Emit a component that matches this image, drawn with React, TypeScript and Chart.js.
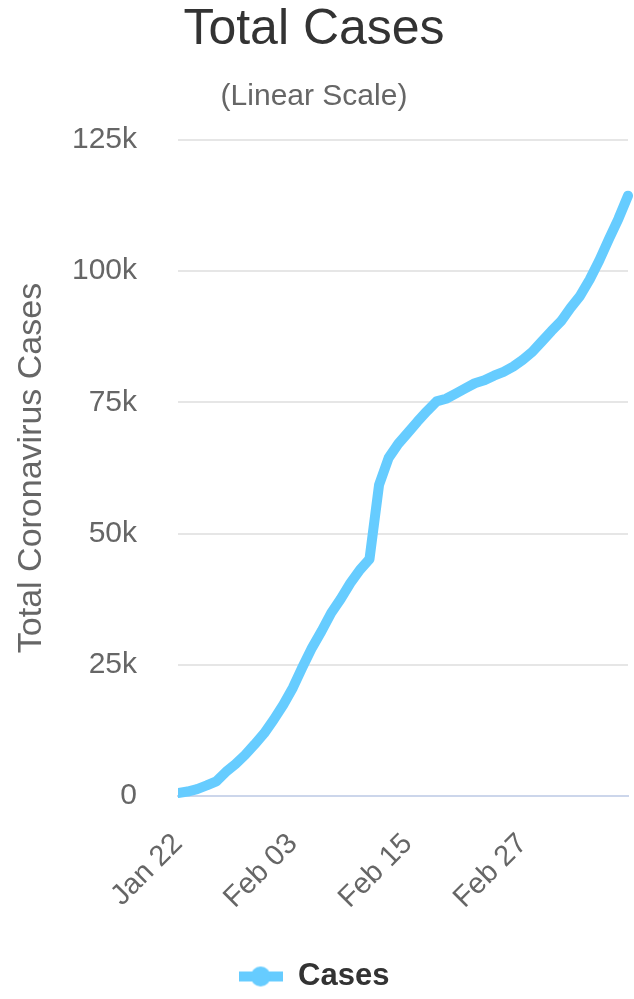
import React, { useEffect, useRef } from 'react';
import { Chart, registerables } from 'chart.js';

Chart.register(...registerables);

// Daily cumulative totals, Jan 22 – Mar 09
const dates = [
  'Jan 22', 'Jan 23', 'Jan 24', 'Jan 25', 'Jan 26', 'Jan 27', 'Jan 28', 'Jan 29', 'Jan 30', 'Jan 31',
  'Feb 01', 'Feb 02', 'Feb 03', 'Feb 04', 'Feb 05', 'Feb 06', 'Feb 07', 'Feb 08', 'Feb 09', 'Feb 10',
  'Feb 11', 'Feb 12', 'Feb 13', 'Feb 14', 'Feb 15', 'Feb 16', 'Feb 17', 'Feb 18', 'Feb 19', 'Feb 20',
  'Feb 21', 'Feb 22', 'Feb 23', 'Feb 24', 'Feb 25', 'Feb 26', 'Feb 27', 'Feb 28', 'Feb 29',
  'Mar 01', 'Mar 02', 'Mar 03', 'Mar 04', 'Mar 05', 'Mar 06', 'Mar 07', 'Mar 08', 'Mar 09',
];

const totalCases = [
  580, 845, 1317, 2015, 2800, 4581, 6058, 7813, 9823, 11950,
  14553, 17391, 20630, 24545, 28266, 31439, 34876, 37552, 40553, 43099,
  45134, 59287, 64438, 67100, 69197, 71329, 73332, 75184, 75700, 76677,
  77673, 78651, 79205, 80087, 80828, 81820, 83112, 84615, 86604,
  88585, 90443, 93016, 95314, 98425, 102050, 106099, 109991, 114381,
];

const yTickValues = [0, 25000, 50000, 75000, 100000, 125000];
const xLabelEvery = 12;

const FONT = "'Liberation Sans', Arial, Helvetica, sans-serif";
const LINE_COLOR = '#66CCFF';

function makeLegendSymbol(): HTMLCanvasElement {
  const c = document.createElement('canvas');
  c.width = 44;
  c.height = 22;
  const g = c.getContext('2d')!;
  g.fillStyle = LINE_COLOR;
  g.fillRect(0, 6, 44, 10);
  g.beginPath();
  g.arc(22, 11, 10, 0, Math.PI * 2);
  g.fill();
  return c;
}

export default function App() {
  const canvasRef = useRef<HTMLCanvasElement | null>(null);

  useEffect(() => {
    if (!canvasRef.current) return;
    const chart = new Chart(canvasRef.current, {
      type: 'line',
      data: {
        labels: dates,
        datasets: [
          {
            label: 'Cases',
            data: totalCases,
            borderColor: LINE_COLOR,
            backgroundColor: LINE_COLOR,
            borderWidth: 10,
            borderCapStyle: 'round',
            borderJoinStyle: 'round',
            pointRadius: 0,
            tension: 0,
            fill: false,
            clip: { left: 0, top: 10, right: 10, bottom: 10 },
          },
        ],
      },
      options: {
        animation: false,
        responsive: true,
        maintainAspectRatio: false,
        layout: { padding: { top: 0, left: 0, right: 6, bottom: -3 } },
        plugins: {
          title: {
            display: true,
            text: 'Total Cases',
            color: '#333333',
            font: { family: FONT, size: 50, weight: 'normal', lineHeight: 1.1 },
            padding: { top: 3, bottom: 9 },
          },
          subtitle: {
            display: true,
            text: '(Linear Scale)',
            color: '#666666',
            font: { family: FONT, size: 30, weight: 'normal', lineHeight: 1.2 },
            padding: { top: 12, bottom: 25 },
          },
          legend: {
            display: true,
            position: 'bottom',
            labels: {
              usePointStyle: true,
              pointStyle: makeLegendSymbol(),
              pointStyleWidth: 44,
              color: '#333333',
              font: { family: FONT, size: 31, weight: 'bold' },
              padding: 10,
            },
          },
          tooltip: { enabled: false },
        },
        scales: {
          x: {
            type: 'category',
            grid: { display: false },
            border: { display: true, color: '#ccd6eb', width: 2 },
            ticks: {
              autoSkip: false,
              minRotation: 45,
              maxRotation: 45,
              padding: 23,
              color: '#666666',
              font: { family: FONT, size: 29 },
              callback: (_v: any, i: number) => (i % xLabelEvery === 0 ? dates[i] : ''),
            },
            afterFit: (s: any) => {
              s.height = 155;
              s.paddingLeft = 0;
              s.paddingRight = 0;
            },
          },
          y: {
            min: 0,
            max: 125000,
            grid: {
              color: (ctx: any) => (ctx.tick && ctx.tick.value === 0 ? 'rgba(0,0,0,0)' : '#e6e6e6'),
              lineWidth: 2,
              drawTicks: false,
            },
            border: { display: false },
            ticks: {
              padding: 41,
              color: '#666666',
              font: { family: FONT, size: 30 },
              callback: (v: any) => (Number(v) === 0 ? '0' : Number(v) / 1000 + 'k'),
            },
            afterBuildTicks: (s: any) => {
              s.ticks = yTickValues.map((v) => ({ value: v }));
            },
            title: {
              display: true,
              text: 'Total Coronavirus Cases',
              color: '#666666',
              font: { family: FONT, size: 34, weight: 'normal', lineHeight: 1.2 },
              padding: { top: 11, bottom: 0 },
            },
            afterFit: (s: any) => {
              s.width = 178;
            },
          },
        },
      },
    });
    return () => chart.destroy();
  }, []);

  return (
    <div style={{ position: 'absolute', left: 0, top: 0, width: 634, height: 999, background: '#ffffff' }}>
      <canvas ref={canvasRef} />
    </div>
  );
}
